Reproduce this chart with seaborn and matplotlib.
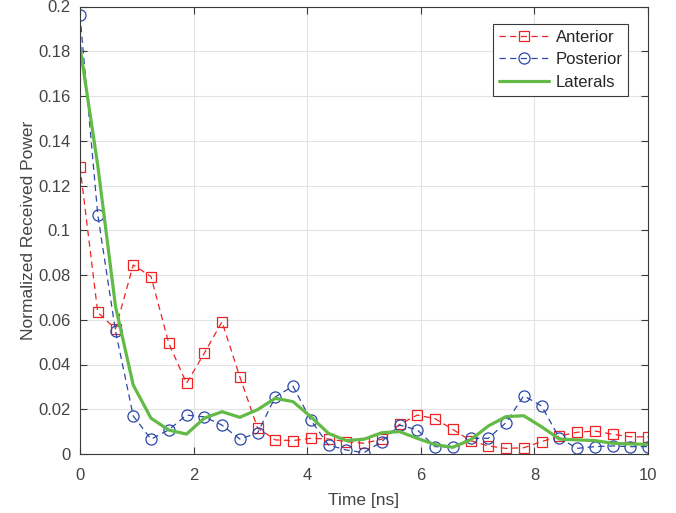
import matplotlib
matplotlib.use("Agg")
import matplotlib.pyplot as plt
import seaborn as sns
import pandas as pd

# time axis (ns), 33 samples
time_ns = [0, 0.3125, 0.625, 0.9375, 1.25, 1.5625, 1.875, 2.1875, 2.5, 2.8125,
           3.125, 3.4375, 3.75, 4.0625, 4.375, 4.6875, 5, 5.3125, 5.625, 5.9375,
           6.25, 6.5625, 6.875, 7.1875, 7.5, 7.8125, 8.125, 8.4375, 8.75, 9.0625,
           9.375, 9.6875, 10]

anterior = [0.1284, 0.0633, 0.0559, 0.0845, 0.0793, 0.0495, 0.0316, 0.045, 0.0591, 0.0346,
            0.0117, 0.0063, 0.006, 0.007, 0.0067, 0.0055, 0.0048, 0.0066, 0.0132, 0.0174,
            0.0158, 0.011, 0.006, 0.0036, 0.0025, 0.0028, 0.0055, 0.008, 0.0097, 0.0103,
            0.0088, 0.0077, 0.0077]

posterior = [0.196, 0.107, 0.055, 0.017, 0.0066, 0.0108, 0.0174, 0.0166, 0.0129, 0.0067,
             0.0093, 0.0255, 0.0303, 0.0152, 0.004, 0.0018, 0.0006, 0.0055, 0.0129, 0.0108,
             0.0033, 0.003, 0.007, 0.007, 0.014, 0.026, 0.0215, 0.0073, 0.0025, 0.0033,
             0.0036, 0.0033, 0.0033]

laterals = [0.182, 0.129, 0.066, 0.0308, 0.016, 0.0107, 0.0089, 0.016, 0.0189, 0.0164,
            0.0198, 0.0249, 0.0234, 0.0167, 0.0092, 0.006, 0.0066, 0.0095, 0.01, 0.007,
            0.0042, 0.003, 0.0063, 0.0125, 0.0167, 0.0171, 0.0122, 0.0067, 0.0063, 0.006,
            0.0048, 0.0045, 0.0043]

x_ticks = [0, 2, 4, 6, 8, 10]
y_ticks = [0, 0.02, 0.04, 0.06, 0.08, 0.1, 0.12, 0.14, 0.16, 0.18, 0.2]
y_tick_labels = ["0", "0.02", "0.04", "0.06", "0.08", "0.1", "0.12", "0.14", "0.16", "0.18", "0.2"]

sns.set_style("ticks")
plt.rcParams["font.family"] = ["Liberation Sans", "DejaVu Sans"]
plt.rcParams["font.size"] = 12

df = pd.DataFrame({"time": time_ns, "Anterior": anterior,
                   "Posterior": posterior, "Laterals": laterals})

fig, ax = plt.subplots(figsize=(6.76, 5.13), dpi=100)
fig.subplots_adjust(left=80 / 676, right=648 / 676, top=1 - 6.5 / 513, bottom=1 - 454 / 513)

sns.lineplot(data=df, x="time", y="Anterior", ax=ax, color="#ee2222", dashes=False,
             linestyle=(0, (5, 3.5)), linewidth=0.9, marker="s", markersize=7.5,
             markerfacecolor="none", markeredgecolor="#ee2222", markeredgewidth=0.9,
             label="Anterior")
sns.lineplot(data=df, x="time", y="Posterior", ax=ax, color="#2b47a8", dashes=False,
             linestyle=(0, (5, 3.5)), linewidth=0.9, marker="o", markersize=8,
             markerfacecolor="none", markeredgecolor="#2b47a8", markeredgewidth=0.9,
             label="Posterior")
sns.lineplot(data=df, x="time", y="Laterals", ax=ax, color="#62bb46", linewidth=2.3,
             label="Laterals")

ax.set_xlim(0, 10)
ax.set_ylim(0, 0.2)
ax.set_xticks(x_ticks)
ax.set_yticks(y_ticks)
ax.set_yticklabels(y_tick_labels)
ax.grid(True, color="#e3e3e3", linewidth=0.8)
ax.set_axisbelow(True)

for s in ax.spines.values():
    s.set_visible(True)
    s.set_color("#3a3a3a")
    s.set_linewidth(0.8)
ax.tick_params(direction="in", length=5, width=0.8, top=True, right=True,
               colors="#3a3a3a", labelcolor="#444444", labelsize=12)
ax.tick_params(axis="x", pad=10)
ax.tick_params(axis="y", pad=7)

ax.set_xlabel("Time [ns]", fontsize=12.5, color="#444444", labelpad=7)
ax.set_ylabel("Normalized Received Power", fontsize=12.5, color="#444444", labelpad=1.5)

leg = ax.legend(loc="upper left", bbox_to_anchor=(413 / 568, 1 - 17.5 / 447.5), fancybox=False,
                framealpha=1, edgecolor="#3a3a3a", fontsize=12, handlelength=3.0,
                borderpad=0.35, labelspacing=0.45, handletextpad=0.4, borderaxespad=0)
leg.get_frame().set_linewidth(0.8)

fig.savefig("out.png", dpi=100)
